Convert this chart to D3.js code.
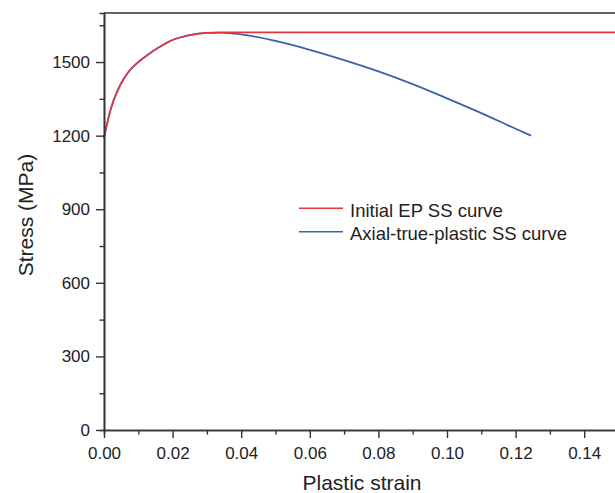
<!DOCTYPE html>
<html>
<head>
<meta charset="utf-8">
<script src="https://cdn.jsdelivr.net/npm/d3@7"></script>
<style>
  body { margin: 0; background: #fff; }
  svg { display: block; font-family: "Liberation Sans", Arial, sans-serif; }
</style>
</head>
<body>
<svg id="plot" width="615" height="493"></svg>
<script>
// values
const epStrain = [0, 0.001, 0.002, 0.004, 0.006, 0.008, 0.010, 0.013, 0.016, 0.020, 0.025, 0.030, 0.035, 0.15];
const epStress = [1190, 1255, 1310, 1385, 1437, 1474, 1500, 1532, 1560, 1590, 1610, 1619, 1621, 1621];

const axStrain = [0, 0.001, 0.002, 0.004, 0.006, 0.008, 0.010, 0.013, 0.016, 0.020, 0.025, 0.030, 0.034, 0.040, 0.050, 0.060, 0.070, 0.080, 0.090, 0.100, 0.110, 0.120, 0.1245];
const axStress = [1190, 1255, 1310, 1385, 1437, 1474, 1500, 1532, 1560, 1590, 1610, 1619, 1620, 1613, 1586, 1550, 1508, 1462, 1410, 1352, 1292, 1228, 1200];

const xTicks = [0, 0.02, 0.04, 0.06, 0.08, 0.10, 0.12, 0.14];
const yTicks = [0, 300, 600, 900, 1200, 1500];
const seriesNames = ['Initial EP SS curve', 'Axial-true-plastic SS curve'];
const seriesColors = ['#e8343c', '#3c62ad'];

const plot = d3.select('#plot');

const plotLeft = 104, plotRight = 618.5, plotTop = 13, plotBottom = 430;

const xScale = d3.scaleLinear().domain([0, 0.15]).range([plotLeft, plotRight]);
const yScale = d3.scaleLinear().domain([0, 1700]).range([plotBottom, plotTop]);

const axisColor = '#333';

// minor ticks
const xAxisMinor = d3.axisBottom(xScale)
  .tickValues(d3.range(0.01, 0.15, 0.02))
  .tickSize(4.5).tickFormat('');
const yAxisMinor = d3.axisLeft(yScale)
  .tickValues(d3.range(150, 1700, 300))
  .tickSize(4.5).tickFormat('');

const xAxis = d3.axisBottom(xScale)
  .tickValues(xTicks)
  .tickFormat(d3.format('.2f'))
  .tickSizeInner(8)
  .tickSizeOuter(0)
  .tickPadding(9);

const yAxis = d3.axisLeft(yScale)
  .tickValues(yTicks)
  .tickFormat(d3.format('d'))
  .tickSizeInner(8)
  .tickSizeOuter(0)
  .tickPadding(6);

// top frame line
plot.append('line')
  .attr('x1', plotLeft).attr('x2', plotRight)
  .attr('y1', plotTop).attr('y2', plotTop)
  .attr('stroke', axisColor).attr('stroke-width', 1.6);

const line = d3.line()
  .x(d => xScale(d[0]))
  .y(d => yScale(d[1]))
  .curve(d3.curveMonotoneX);

const axData = axStrain.map((s, i) => [s, axStress[i]]);
const epData = epStrain.map((s, i) => [s, epStress[i]]);

plot.append('path')
  .attr('d', line(axData))
  .attr('stroke', seriesColors[1])
  .attr('stroke-width', 1.8)
  .style('fill', 'none');

plot.append('path')
  .attr('d', line(epData))
  .attr('stroke', seriesColors[0])
  .attr('stroke-width', 1.6)
  .style('fill', 'none');

function styleAxis(g) {
  g.select('.domain').attr('stroke', axisColor).attr('stroke-width', 1.6);
  g.selectAll('.tick line').attr('stroke', axisColor).attr('stroke-width', 1.4);
  g.selectAll('text').attr('fill', '#222').style('font-size', '17px')
    .style('font-family', '"Liberation Sans", Arial, sans-serif');
}

plot.append('g').attr('transform', `translate(0, ${plotBottom})`).call(xAxisMinor).call(styleAxis);
plot.append('g').attr('transform', `translate(${plotLeft}, 0)`).call(yAxisMinor).call(styleAxis);
plot.append('g').attr('transform', `translate(0, ${plotBottom})`).call(xAxis).call(styleAxis);
plot.append('g').attr('transform', `translate(${plotLeft}, 0)`).call(yAxis).call(styleAxis);

// axis titles
plot.append('text')
  .attr('x', 362).attr('y', 490)
  .attr('text-anchor', 'middle')
  .style('font-size', '21px').attr('fill', '#222')
  .text('Plastic strain');

plot.append('text')
  .attr('transform', 'translate(33, 215) rotate(-90)')
  .attr('text-anchor', 'middle')
  .style('font-size', '21px').attr('fill', '#222')
  .text('Stress (MPa)');

// legend
const legend = plot.append('g').attr('transform', 'translate(299, 208.3)');
seriesNames.forEach((name, i) => {
  const row = legend.append('g').attr('transform', `translate(0, ${i * 23.4})`);
  row.append('line')
    .attr('x1', 0).attr('x2', 44)
    .attr('stroke', seriesColors[i]).attr('stroke-width', 1.6);
  row.append('text')
    .attr('x', 51).attr('y', 8.4)
    .style('font-size', '18.5px').attr('fill', '#222')
    .text(name);
});
</script>
</body>
</html>
